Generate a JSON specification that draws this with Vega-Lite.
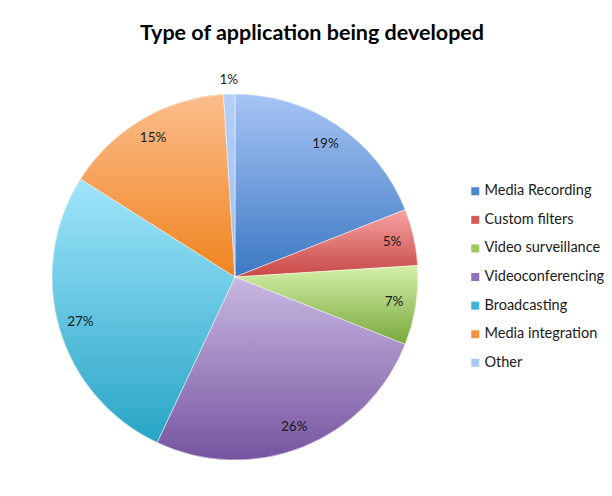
{
  "$schema": "https://vega.github.io/schema/vega-lite/v6.json",
  "width": 366,
  "height": 366,
  "autosize": {"type": "none"},
  "padding": {"left": 52, "top": 94, "right": 194, "bottom": 36},
  "background": "white",
  "title": {
    "text": "Type of application being developed",
    "anchor": "middle",
    "frame": "group",
    "dx": 77,
    "offset": 29,
    "font": "Lato",
    "fontSize": 21.5,
    "fontWeight": "bold",
    "color": "#000000"
  },
  "data": {
    "values": [
      {"type": "Media Recording", "value": 0.19, "idx": 1},
      {"type": "Custom filters", "value": 0.05, "idx": 2},
      {"type": "Video surveillance", "value": 0.07, "idx": 3},
      {"type": "Videoconferencing", "value": 0.26, "idx": 4},
      {"type": "Broadcasting", "value": 0.27, "idx": 5},
      {"type": "Media integration", "value": 0.15, "idx": 6},
      {"type": "Other", "value": 0.01, "idx": 7}
    ]
  },
  "transform": [
    {"stack": "value", "groupby": [], "sort": [{"field": "idx", "order": "ascending"}], "as": ["v0", "v1"]}
  ],
  "layer": [
    {
      "mark": {"type": "arc", "stroke": "#ffffff", "strokeWidth": 0.5},
      "encoding": {
        "theta": {"field": "v0", "type": "quantitative", "scale": {"domain": [0, 1]}},
        "theta2": {"field": "v1"},
        "color": {
          "field": "type",
          "type": "nominal",
          "scale": {
            "domain": ["Media Recording", "Custom filters", "Video surveillance", "Videoconferencing", "Broadcasting", "Media integration", "Other"],
            "range": ["#4f86d0", "#d85a58", "#9cc85e", "#8f72b8", "#40b6d6", "#f5913f", "#a9c8f5"]
          },
          "legend": {
            "orient": "none",
            "legendX": 416,
            "legendY": 90,
            "title": null,
            "symbolType": "square",
            "symbolSize": 64,
            "symbolStrokeWidth": 0,
            "labelFont": "Lato",
            "labelFontSize": 14.5,
            "labelColor": "#1a1a1a",
            "labelOffset": 2,
            "rowPadding": 13.6,
            "padding": 0
          }
        }
      }
    },
    {
      "transform": [{"filter": "datum.idx == 1"}],
      "mark": {"type": "arc", "stroke": "#ffffff", "strokeWidth": 0.5,
        "color": {"gradient": "linear", "x1": 0, "y1": 0, "x2": 0, "y2": 1, "stops": [{"offset": 0, "color": "#a7c4f5"}, {"offset": 1, "color": "#3c78c3"}]}},
      "encoding": {"theta": {"field": "v0", "type": "quantitative", "scale": {"domain": [0, 1]}}, "theta2": {"field": "v1"}}
    },
    {
      "transform": [{"filter": "datum.idx == 2"}],
      "mark": {"type": "arc", "stroke": "#ffffff", "strokeWidth": 0.5,
        "color": {"gradient": "linear", "x1": 0, "y1": 0, "x2": 0, "y2": 1, "stops": [{"offset": 0, "color": "#f6a3a2"}, {"offset": 1, "color": "#c84846"}]}},
      "encoding": {"theta": {"field": "v0", "type": "quantitative", "scale": {"domain": [0, 1]}}, "theta2": {"field": "v1"}}
    },
    {
      "transform": [{"filter": "datum.idx == 3"}],
      "mark": {"type": "arc", "stroke": "#ffffff", "strokeWidth": 0.5,
        "color": {"gradient": "linear", "x1": 0, "y1": 0, "x2": 0, "y2": 1, "stops": [{"offset": 0, "color": "#d5f0a9"}, {"offset": 1, "color": "#78a93c"}]}},
      "encoding": {"theta": {"field": "v0", "type": "quantitative", "scale": {"domain": [0, 1]}}, "theta2": {"field": "v1"}}
    },
    {
      "transform": [{"filter": "datum.idx == 4"}],
      "mark": {"type": "arc", "stroke": "#ffffff", "strokeWidth": 0.5,
        "color": {"gradient": "linear", "x1": 0, "y1": 0, "x2": 0, "y2": 1, "stops": [{"offset": 0, "color": "#c8b8e2"}, {"offset": 1, "color": "#7654a0"}]}},
      "encoding": {"theta": {"field": "v0", "type": "quantitative", "scale": {"domain": [0, 1]}}, "theta2": {"field": "v1"}}
    },
    {
      "transform": [{"filter": "datum.idx == 5"}],
      "mark": {"type": "arc", "stroke": "#ffffff", "strokeWidth": 0.5,
        "color": {"gradient": "linear", "x1": 0, "y1": 0, "x2": 0, "y2": 1, "stops": [{"offset": 0, "color": "#a0e5fb"}, {"offset": 1, "color": "#28a5c6"}]}},
      "encoding": {"theta": {"field": "v0", "type": "quantitative", "scale": {"domain": [0, 1]}}, "theta2": {"field": "v1"}}
    },
    {
      "transform": [{"filter": "datum.idx == 6"}],
      "mark": {"type": "arc", "stroke": "#ffffff", "strokeWidth": 0.5,
        "color": {"gradient": "linear", "x1": 0, "y1": 0, "x2": 0, "y2": 1, "stops": [{"offset": 0, "color": "#fbbd8c"}, {"offset": 1, "color": "#f0841f"}]}},
      "encoding": {"theta": {"field": "v0", "type": "quantitative", "scale": {"domain": [0, 1]}}, "theta2": {"field": "v1"}}
    },
    {
      "transform": [{"filter": "datum.idx == 7"}],
      "mark": {"type": "arc", "stroke": "#ffffff", "strokeWidth": 0.5,
        "color": {"gradient": "linear", "x1": 0, "y1": 0, "x2": 0, "y2": 1, "stops": [{"offset": 0, "color": "#b4d0f8"}, {"offset": 1, "color": "#9fbdef"}]}},
      "encoding": {"theta": {"field": "v0", "type": "quantitative", "scale": {"domain": [0, 1]}}, "theta2": {"field": "v1"}}
    },
    {
      "mark": {"type": "text", "radius": 161, "font": "Lato", "fontSize": 13.5, "color": "#1a1a1a"},
      "encoding": {
        "theta": {"field": "value", "type": "quantitative", "stack": true, "scale": {"domain": [0, 1]}},
        "order": {"field": "idx", "type": "quantitative"},
        "text": {"condition": {"test": "datum.value < 0.02", "value": ""}, "field": "value", "type": "quantitative", "format": ".0%"}
      }
    },
    {
      "mark": {"type": "text", "radius": 197, "font": "Lato", "fontSize": 13.5, "color": "#1a1a1a"},
      "encoding": {
        "theta": {"field": "value", "type": "quantitative", "stack": true, "scale": {"domain": [0, 1]}},
        "order": {"field": "idx", "type": "quantitative"},
        "text": {"condition": {"test": "datum.value >= 0.02", "value": ""}, "field": "value", "type": "quantitative", "format": ".0%"}
      }
    }
  ],
  "config": {"view": {"stroke": null}}
}
